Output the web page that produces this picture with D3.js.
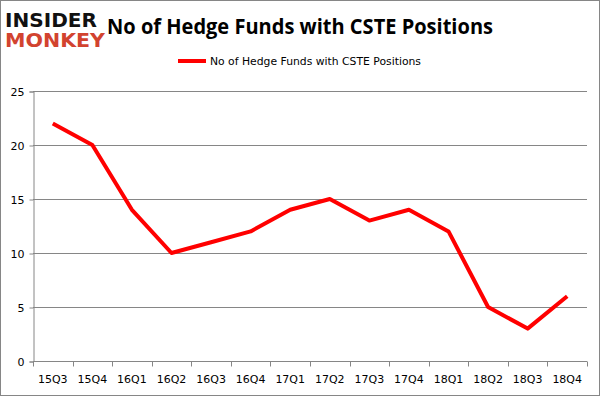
<!DOCTYPE html>
<html>
<head>
<meta charset="utf-8">
<script src="https://cdn.jsdelivr.net/npm/d3@7"></script>
<style>
  body { margin: 0; background: #fff; }
  svg { display: block; }
</style>
</head>
<body>
<div id="chart"></div>
<script>
// data
const quarters = ['15Q3', '15Q4', '16Q1', '16Q2', '16Q3', '16Q4', '17Q1', '17Q2', '17Q3', '17Q4', '18Q1', '18Q2', '18Q3', '18Q4'];
const fundCounts = [22, 20, 14, 10, 11, 12, 14, 15, 13, 14, 12, 5, 3, 6];
const yTicks = [0, 5, 10, 15, 20, 25];
const seriesName = 'No of Hedge Funds with CSTE Positions';
const titleText = 'No of Hedge Funds with CSTE Positions';

const W = 601, H = 396;
const margin = { top: 91, right: 14, bottom: 35, left: 33 };
const font = "'DejaVu Sans', sans-serif";

const svg = d3.select('#chart').append('svg')
  .attr('width', W)
  .attr('height', H);

svg.append('rect')
  .attr('x', 0.5).attr('y', 0.5)
  .attr('width', W - 2).attr('height', H - 1)
  .attr('fill', '#fff')
  .attr('stroke', '#868686');

const x = d3.scaleBand()
  .domain(quarters)
  .range([margin.left, W - margin.right]);

const y = d3.scaleLinear()
  .domain([0, 25])
  .range([H - margin.bottom, margin.top]);

// gridlines
svg.append('g')
  .selectAll('line')
  .data(yTicks)
  .enter()
  .append('line')
  .attr('x1', margin.left)
  .attr('x2', W - margin.right)
  .attr('y1', d => Math.round(y(d)) + 0.5)
  .attr('y2', d => Math.round(y(d)) + 0.5)
  .attr('stroke', '#868686');

// y axis
const yAxis = svg.append('g')
  .attr('transform', 'translate(' + (margin.left + 0.5) + ',0.5)')
  .call(d3.axisLeft(y).tickValues(yTicks).tickSize(4).tickPadding(5));
yAxis.selectAll('line, path').attr('stroke', '#868686');
yAxis.selectAll('text')
  .attr('font-family', font)
  .attr('font-size', 11)
  .attr('fill', '#000');

// x axis, ticks on band edges
const xAxis = svg.append('g')
  .attr('transform', 'translate(0,' + (Math.round(y(0)) + 0.5) + ')');
xAxis.append('path')
  .attr('d', 'M' + margin.left + ',0H' + (W - margin.right))
  .attr('stroke', '#868686');
xAxis.selectAll('.tick')
  .data(quarters.concat(['end']))
  .enter()
  .append('line')
  .attr('x1', (d, i) => Math.round(margin.left + i * x.step()) + 0.5)
  .attr('x2', (d, i) => Math.round(margin.left + i * x.step()) + 0.5)
  .attr('y1', 0)
  .attr('y2', 5)
  .attr('stroke', '#868686');
xAxis.selectAll('text')
  .data(quarters)
  .enter()
  .append('text')
  .attr('x', d => x(d) + x.bandwidth() / 2)
  .attr('y', 21)
  .attr('text-anchor', 'middle')
  .attr('font-family', font)
  .attr('font-size', 11)
  .attr('fill', '#000')
  .text(d => d);

// the line
const line = d3.line()
  .x((d, i) => x(quarters[i]) + x.bandwidth() / 2)
  .y(d => y(d));

svg.append('path')
  .datum(fundCounts)
  .attr('d', line)
  .attr('fill', 'none')
  .attr('stroke', '#ff0000')
  .attr('stroke-width', 4)
  .attr('stroke-linejoin', 'round');

// title
svg.append('text')
  .attr('x', 107)
  .attr('y', 34)
  .attr('font-family', "'Open Sans', sans-serif")
  .attr('font-weight', 'bold')
  .attr('font-size', 21)
  .attr('textLength', 386)
  .attr('lengthAdjust', 'spacingAndGlyphs')
  .attr('fill', '#000')
  .text(titleText);

// legend
svg.append('line')
  .attr('x1', 178).attr('x2', 206)
  .attr('y1', 61).attr('y2', 61)
  .attr('stroke', '#ff0000')
  .attr('stroke-width', 4);
svg.append('text')
  .attr('x', 210)
  .attr('y', 65)
  .attr('font-family', font)
  .attr('font-size', 11)
  .attr('textLength', 211)
  .attr('lengthAdjust', 'spacingAndGlyphs')
  .attr('fill', '#000')
  .text(seriesName);

// logo
svg.append('text')
  .attr('x', 5).attr('y', 27)
  .attr('font-family', "'DejaVu Sans', sans-serif")
  .attr('font-weight', 'bold')
  .attr('font-size', 19)
  .attr('textLength', 92)
  .attr('lengthAdjust', 'spacingAndGlyphs')
  .attr('fill', '#111')
  .text('INSIDER');
svg.append('text')
  .attr('x', 5).attr('y', 47)
  .attr('font-family', "'DejaVu Sans', sans-serif")
  .attr('font-weight', 'bold')
  .attr('font-size', 19)
  .attr('textLength', 100)
  .attr('lengthAdjust', 'spacingAndGlyphs')
  .attr('fill', '#d2432f')
  .text('MONKEY');
</script>
</body>
</html>
